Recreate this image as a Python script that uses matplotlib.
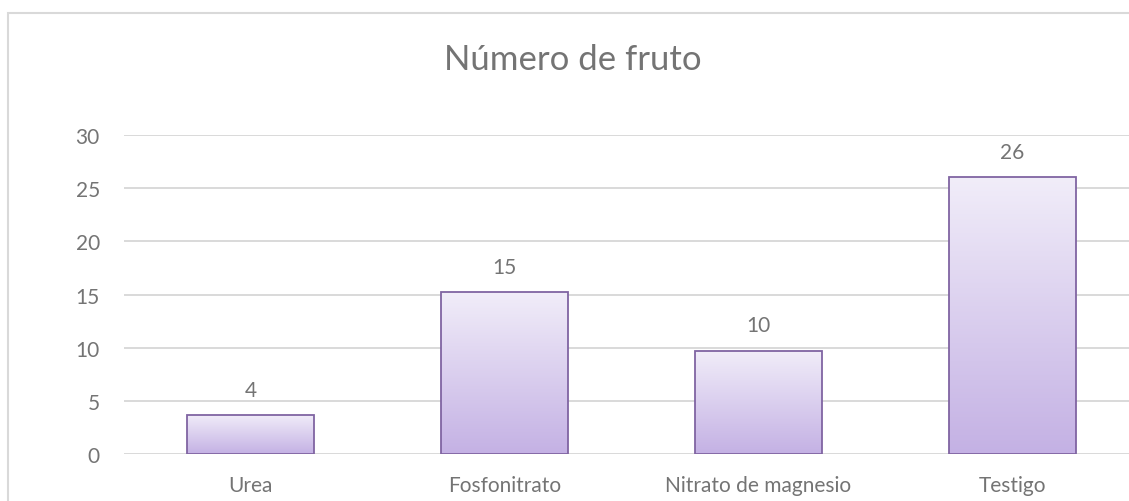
import numpy as np
import matplotlib.pyplot as plt
from matplotlib.colors import LinearSegmentedColormap
from matplotlib.patches import Rectangle

plt.rcParams['font.family'] = ['Lato', 'DejaVu Sans']

# data
categorias = ['Urea', 'Fosfonitrato', 'Nitrato de magnesio', 'Testigo']
valores = [3.67, 15.2, 9.7, 26.05]
titulo = 'Número de fruto'

gris = '#747474'
fig = plt.figure(figsize=(11.29, 5.02), dpi=100)

# chart frame (cropped on right/bottom like the original)
fig.patches.append(Rectangle((8 / 1129, -0.05), 1.2, 1 - 14 / 502 + 0.05,
                             transform=fig.transFigure, fill=False,
                             edgecolor='#d9d9d9', linewidth=1.5))

ax = fig.add_axes([123.5 / 1129, 1 - 455 / 502, 1016 / 1129, 319 / 502])
x = np.arange(len(categorias))
bars = ax.bar(x, valores, width=0.5, color='none', edgecolor='#8064a2',
              linewidth=1.3, zorder=3)

cmap = LinearSegmentedColormap.from_list('lav', ['#c4b1e4', '#f1edf9'])
grad = np.linspace(0, 1, 256).reshape(-1, 1)
for b in bars:
    x0, w, h = b.get_x(), b.get_width(), b.get_height()
    im = ax.imshow(grad, cmap=cmap, origin='lower', aspect='auto',
                   extent=[x0, x0 + w, 0, h], zorder=2)
    im.set_clip_path(b)
    ax.text(x0 + w / 2, h + 1.45, f'{round(h):d}', ha='center', va='bottom',
            fontsize=15, color=gris)

ax.set_xlim(-0.5, 3.5)
ax.set_ylim(0, 30)
ax.set_yticks(range(0, 31, 5))
ax.set_xticks(x)
ax.set_xticklabels(categorias)
ax.tick_params(length=0, labelsize=15, colors=gris)
ax.tick_params(axis='x', pad=15)
ax.tick_params(axis='y', pad=17)
ax.grid(axis='y', color='#d9d9d9', linewidth=1.4, zorder=0)
for s in ax.spines.values():
    s.set_visible(False)

fig.text(573 / 1129, 1 - 60 / 502, titulo, ha='center', va='center',
         fontsize=25, color=gris)

fig.savefig('out.png', dpi=100)
